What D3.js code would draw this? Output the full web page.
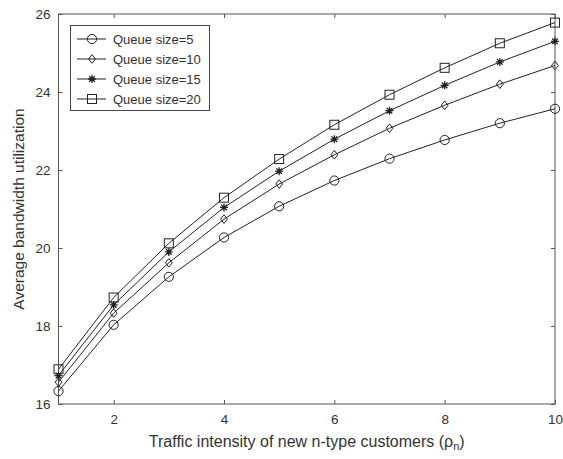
<!DOCTYPE html>
<html>
<head>
<meta charset="utf-8">
<script src="https://cdn.jsdelivr.net/npm/d3@7"></script>
<style>
  body { margin: 0; background: #fff; }
  text { font-family: "Liberation Sans", Arial, sans-serif; fill: #333; }
</style>
</head>
<body>
<svg id="canvas" width="563" height="459"></svg>
<script>
var xValues = [1, 2, 3, 4, 5, 6, 7, 8, 9, 10];
var q5 = [16.33, 18.03, 19.26, 20.27, 21.07, 21.73, 22.29, 22.77, 23.20, 23.57];
var q10 = [16.56, 18.33, 19.62, 20.74, 21.64, 22.39, 23.07, 23.66, 24.20, 24.68];
var q15 = [16.73, 18.54, 19.90, 21.04, 21.97, 22.79, 23.52, 24.17, 24.77, 25.30];
var q20 = [16.89, 18.73, 20.12, 21.29, 22.28, 23.16, 23.93, 24.62, 25.25, 25.78];
var seriesNames = ['Queue size=5', 'Queue size=10', 'Queue size=15', 'Queue size=20'];
var markerTypes = ['circle', 'diamond', 'star', 'square'];
var xTicks = [2, 4, 6, 8, 10];
var yTicks = [16, 18, 20, 22, 24, 26];

(function() {
    var svg = d3.select('#canvas');
    var margin = { left: 58.5, right: 8, top: 14, bottom: 55 };
    var width = 563 - margin.left - margin.right;
    var height = 459 - margin.top - margin.bottom;
    var axisColor = '#555';

    var x = d3.scaleLinear().domain([1, 10]).range([margin.left, margin.left + width]);
    var y = d3.scaleLinear().domain([16, 26]).range([margin.top + height, margin.top]);

    // frame
    svg.append('rect')
        .attr('x', margin.left)
        .attr('y', margin.top)
        .attr('width', width)
        .attr('height', height)
        .attr('fill', 'none')
        .attr('stroke', axisColor)
        .attr('stroke-width', 1);

    // inward ticks, mirrored top/right
    var xAxis = d3.axisBottom(x).tickValues(xTicks).tickSize(-4).tickPadding(10).tickFormat(d3.format('d'));
    var gx = svg.append('g').attr('transform', 'translate(0,' + (margin.top + height) + ')').call(xAxis);
    var gxTop = svg.append('g').attr('transform', 'translate(0,' + margin.top + ')')
        .call(d3.axisTop(x).tickValues(xTicks).tickSize(-4).tickFormat(''));
    var yAxis = d3.axisLeft(y).tickValues(yTicks).tickSize(-4).tickPadding(8).tickFormat(d3.format('d'));
    var gy = svg.append('g').attr('transform', 'translate(' + margin.left + ',0)').call(yAxis);
    var gyRight = svg.append('g').attr('transform', 'translate(' + (margin.left + width) + ',0)')
        .call(d3.axisRight(y).tickValues(yTicks).tickSize(-4).tickFormat(''));

    [gx, gxTop, gy, gyRight].forEach(function(g) {
        g.select('.domain').remove();
        g.selectAll('line').attr('stroke', axisColor);
        g.selectAll('text').style('font-size', '13.5px').attr('fill', '#333')
            .style('font-family', '"Liberation Sans", Arial, sans-serif');
    });

    // axis labels
    var xl = svg.append('text')
        .attr('x', margin.left + width / 2)
        .attr('y', 447)
        .attr('text-anchor', 'middle')
        .style('font-size', '16px');
    xl.append('tspan').text('Traffic intensity of new n-type customers (\u03c1');
    xl.append('tspan').text('n').style('font-size', '11px').attr('dy', 3);
    xl.append('tspan').text(')').attr('dy', -3);

    svg.append('text')
        .attr('transform', 'translate(24,' + (margin.top + height / 2) + ') rotate(-90)')
        .attr('text-anchor', 'middle')
        .style('font-size', '15.5px')
        .text('Average bandwidth utilization');

    function drawMarker(g, type, cx, cy) {
        var s;
        if (type === 'circle') {
            g.append('circle').attr('cx', cx).attr('cy', cy).attr('r', 4.6)
                .attr('fill', 'none').attr('stroke', '#222').attr('stroke-width', 1);
        } else if (type === 'diamond') {
            s = 4.3;
            g.append('path')
                .attr('d', 'M' + cx + ',' + (cy - s) + 'L' + (cx + s * 0.8) + ',' + cy + 'L' + cx + ',' + (cy + s) + 'L' + (cx - s * 0.8) + ',' + cy + 'Z')
                .attr('fill', 'none').attr('stroke', '#222').attr('stroke-width', 1);
        } else if (type === 'square') {
            s = 4.5;
            g.append('rect').attr('x', cx - s).attr('y', cy - s).attr('width', 2 * s).attr('height', 2 * s)
                .attr('fill', 'none').attr('stroke', '#222').attr('stroke-width', 1);
        } else if (type === 'star') {
            s = 4;
            var d = '';
            [0, 45, 90, 135].forEach(function(a) {
                var r = a * Math.PI / 180;
                var dx = s * Math.cos(r), dy = s * Math.sin(r);
                d += 'M' + (cx - dx) + ',' + (cy - dy) + 'L' + (cx + dx) + ',' + (cy + dy);
            });
            g.append('path').attr('d', d).attr('stroke', '#222').attr('stroke-width', 1.3);
        }
    }

    var allSeries = [q5, q10, q15, q20];
    var line = d3.line()
        .x(function(d, i) { return x(xValues[i]); })
        .y(function(d) { return y(d); });

    allSeries.forEach(function(vals, k) {
        var g = svg.append('g');
        g.append('path')
            .attr('d', line(vals))
            .attr('fill', 'none')
            .attr('stroke', '#222')
            .attr('stroke-width', 1);
        vals.forEach(function(v, i) {
            drawMarker(g, markerTypes[k], x(xValues[i]), y(v));
        });
    });

    // legend
    var lg = svg.append('g');
    lg.append('rect')
        .attr('x', 70.5).attr('y', 25.5)
        .attr('width', 139).attr('height', 85)
        .attr('fill', '#fff').attr('stroke', '#444').attr('stroke-width', 1);
    seriesNames.forEach(function(name, k) {
        var ly = 39 + k * 20;
        lg.append('line').attr('x1', 77).attr('x2', 106).attr('y1', ly).attr('y2', ly)
            .attr('stroke', '#222').attr('stroke-width', 1);
        drawMarker(lg, markerTypes[k], 92, ly);
        lg.append('text').attr('x', 113).attr('y', ly + 4.5)
            .style('font-size', '13px').attr('fill', '#222').text(name);
    });
})();
</script>
</body>
</html>
